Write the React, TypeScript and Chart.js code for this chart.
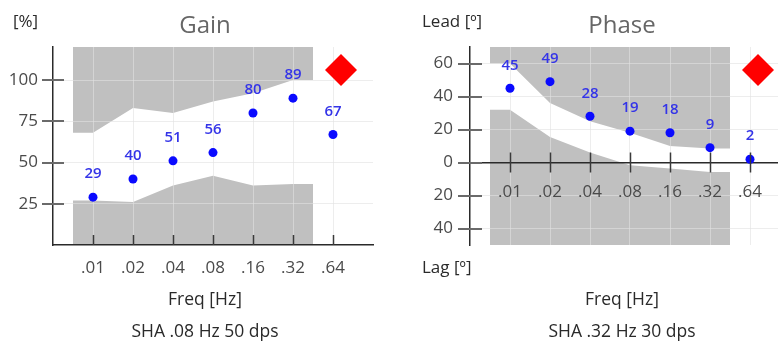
import React, { useEffect, useRef } from "react";
import { Chart, registerables } from "chart.js";
Chart.register(...registerables);

// ---- data ----
const freqLabels = [".01", ".02", ".04", ".08", ".16", ".32", ".64"];
const freqIndex = [0, 1, 2, 3, 4, 5, 6];
const gainValues = [29, 40, 51, 56, 80, 89, 67];
const phaseValues = [45, 49, 28, 19, 18, 9, 2];
const bandX = [-0.5, 0, 1, 2, 3, 4, 5, 5.5];
const gainUpper = [68, 68, 83, 80, 87, 92, 100, 100];
const gainLower = [27, 27, 26, 36, 42, 36, 37, 37];
const phaseUpper = [60, 60, 36, 25, 18, 10, 8.5, 8.5];
const phaseLower = [32, 32, 15.5, 6, -1.6, -3.6, -5.7, -5.7];
const gainTicks = [25, 50, 75, 100];
const phaseTicks = [-40, -20, 0, 20, 40, 60];
const markerX = [6.2];
const gainMarker = [106];
const phaseMarker = [56];

const FONT = "'Open Sans', 'Noto Sans', sans-serif";
const GRAY = "#c0c0c0";

type Cfg = {
  title: string;
  titleX: number;
  unitTop: string;
  unitTopX: number;
  unitBottom?: string;
  unitBottomX?: number;
  freqX: number;
  sha: string;
  yTickOut: number;
  yTickIn: number;
  xTickDown: number;
};

function makeDecor(cfg: Cfg) {
  return {
    id: "decor",
    afterDatasetsDraw(chart: any) {
      const ctx = chart.ctx as CanvasRenderingContext2D;
      const xs = chart.scales.x;
      const ys = chart.scales.y;
      const area = chart.chartArea;
      const axisY = ys.getPixelForValue(0);
      ctx.save();
      // y tick marks
      ctx.strokeStyle = "#6a6a6a";
      ctx.lineWidth = 2;
      ys.ticks.forEach((t: any) => {
        const py = Math.round(ys.getPixelForValue(t.value));
        ctx.beginPath();
        ctx.moveTo(area.left - cfg.yTickOut, py);
        ctx.lineTo(area.left + cfg.yTickIn, py);
        ctx.stroke();
      });
      // x tick marks
      ctx.strokeStyle = "#3a3a3a";
      ctx.lineWidth = 1.5;
      xs.ticks.forEach((t: any) => {
        const px = Math.round(xs.getPixelForValue(t.value)) + 0.5;
        ctx.beginPath();
        ctx.moveTo(px, axisY - 10);
        ctx.lineTo(px, axisY + cfg.xTickDown);
        ctx.stroke();
      });
      // value labels
      const meta = chart.getDatasetMeta(0);
      const vals = chart.data.datasets[0].data;
      ctx.fillStyle = "#3434e8";
      ctx.font = `600 15px ${FONT}`;
      ctx.textAlign = "center";
      ctx.textBaseline = "middle";
      meta.data.forEach((el: any, i: number) => {
        ctx.fillText(String(vals[i].y), el.x, el.y - 23);
      });
      // texts
      ctx.fillStyle = "#666";
      ctx.font = `24px ${FONT}`;
      ctx.fillText(cfg.title, cfg.titleX, 26);
      ctx.fillStyle = "#2a2a2a";
      ctx.font = `17px ${FONT}`;
      ctx.textAlign = "left";
      ctx.fillText(cfg.unitTop, cfg.unitTopX, 22);
      if (cfg.unitBottom) ctx.fillText(cfg.unitBottom, cfg.unitBottomX!, 268);
      ctx.textAlign = "center";
      ctx.font = `17.5px ${FONT}`;
      ctx.fillText("Freq [Hz]", cfg.freqX, 300);
      ctx.fillText(cfg.sha, cfg.freqX, 332);
      ctx.restore();
    },
  };
}

function buildConfig(opts: {
  values: number[];
  upper: number[];
  lower: number[];
  marker: number[];
  yMin: number;
  yMax: number;
  yTicks: number[];
  yAbs: boolean;
  xMax: number;
  yWidth: number;
  yPad: number;
  xPad: number;
  padRight: number;
  xAtZero: boolean;
  decor: any;
}) {
  const tickFont = { family: FONT, size: 17 };
  return {
    type: "line" as const,
    data: {
      datasets: [
        {
          data: freqIndex.map((x, i) => ({ x, y: opts.values[i] })),
          showLine: false,
          pointRadius: 4.5,
          pointBackgroundColor: "#0a0aff",
          pointBorderWidth: 0,
          order: 1,
        },
        {
          data: markerX.map((x, i) => ({ x, y: opts.marker[i] })),
          showLine: false,
          pointStyle: "rectRot",
          pointRadius: 16,
          pointBackgroundColor: "#ff0000",
          pointBorderWidth: 0,
          order: 0,
        },
        {
          data: bandX.map((x, i) => ({ x, y: opts.upper[i] })),
          fill: "end",
          backgroundColor: GRAY,
          borderWidth: 0,
          pointRadius: 0,
          tension: 0,
          order: 5,
        },
        {
          data: bandX.map((x, i) => ({ x, y: opts.lower[i] })),
          fill: "start",
          backgroundColor: GRAY,
          borderWidth: 0,
          pointRadius: 0,
          tension: 0,
          order: 5,
        },
      ],
    },
    options: {
      responsive: false,
      animation: false as const,
      events: [],
      layout: {
        autoPadding: false,
        padding: { left: 0, top: 47, right: opts.padRight, bottom: opts.xAtZero ? 100 : 0 },
      },
      plugins: {
        legend: { display: false },
        tooltip: { enabled: false },
        filler: { drawTime: "beforeDraw" as const },
      },
      scales: {
        x: {
          type: "linear" as const,
          min: -1,
          max: opts.xMax,
          position: opts.xAtZero ? ({ y: 0 } as any) : "bottom",
          afterBuildTicks: (s: any) => {
            s.ticks = freqIndex.map((v) => ({ value: v }));
          },
          afterFit: (s: any) => {
            if (!opts.xAtZero) s.height = 100;
            s.paddingLeft = 0;
            s.paddingRight = 0;
          },
          ticks: {
            autoSkip: false,
            maxRotation: 0,
            padding: opts.xPad,
            color: "#4a4a4a",
            font: tickFont,
            callback: (v: any) => freqLabels[Math.round(v)] ?? "",
          },
          grid: { color: "rgba(225,225,225,0.6)", drawTicks: false, lineWidth: 1 },
          border: { display: true, color: "#2a2a2a", width: 1.5 },
        },
        y: {
          type: "linear" as const,
          min: opts.yMin,
          max: opts.yMax,
          afterBuildTicks: (s: any) => {
            s.ticks = opts.yTicks.map((v) => ({ value: v }));
          },
          afterFit: (s: any) => {
            s.width = opts.yWidth;
            s.paddingTop = 0;
            s.paddingBottom = 0;
          },
          ticks: {
            padding: opts.yPad,
            color: "#4a4a4a",
            font: tickFont,
            callback: (v: any) => String(opts.yAbs ? Math.abs(v) : v),
          },
          grid: { color: "rgba(225,225,225,0.6)", drawTicks: false, lineWidth: 1 },
          border: { display: true, color: "#2a2a2a", width: 1.5 },
        },
      },
    },
    plugins: [opts.decor],
  };
}

function GainChart() {
  const ref = useRef<HTMLCanvasElement>(null);
  useEffect(() => {
    const chart = new Chart(
      ref.current!,
      buildConfig({
        values: gainValues,
        upper: gainUpper,
        lower: gainLower,
        marker: gainMarker,
        yMin: 0,
        yMax: 120,
        yTicks: gainTicks,
        yAbs: false,
        xMax: 7,
        yWidth: 53,
        yPad: 15,
        xPad: 13,
        padRight: 16,
        xAtZero: false,
        decor: makeDecor({
          title: "Gain",
          titleX: 205,
          unitTop: "[%]",
          unitTopX: 13,
          freqX: 205,
          sha: "SHA .08 Hz 50 dps",
          yTickOut: 11,
          yTickIn: 11,
          xTickDown: 0,
        }),
      }) as any
    );
    return () => chart.destroy();
  }, []);
  return <canvas ref={ref} width={389} height={345} style={{ position: "absolute", left: 0, top: 0 }} />;
}

function PhaseChart() {
  const ref = useRef<HTMLCanvasElement>(null);
  useEffect(() => {
    const chart = new Chart(
      ref.current!,
      buildConfig({
        values: phaseValues,
        upper: phaseUpper,
        lower: phaseLower,
        marker: phaseMarker,
        yMin: -50,
        yMax: 70,
        yTicks: phaseTicks,
        yAbs: true,
        xMax: 6.7,
        yWidth: 81,
        yPad: 17,
        xPad: 19,
        padRight: 0,
        xAtZero: true,
        decor: makeDecor({
          title: "Phase",
          titleX: 233,
          unitTop: "Lead [º]",
          unitTopX: 33,
          unitBottom: "Lag [º]",
          unitBottomX: 33,
          freqX: 233,
          sha: "SHA .32 Hz 30 dps",
          yTickOut: 12,
          yTickIn: 12,
          xTickDown: 10,
        }),
      }) as any
    );
    return () => chart.destroy();
  }, []);
  return <canvas ref={ref} width={389} height={345} style={{ position: "absolute", left: 389, top: 0 }} />;
}

export default function App() {
  return (
    <div style={{ position: "absolute", left: 0, top: 0, width: 778, height: 345, background: "#fff", overflow: "hidden" }}>
      <GainChart />
      <PhaseChart />
    </div>
  );
}
